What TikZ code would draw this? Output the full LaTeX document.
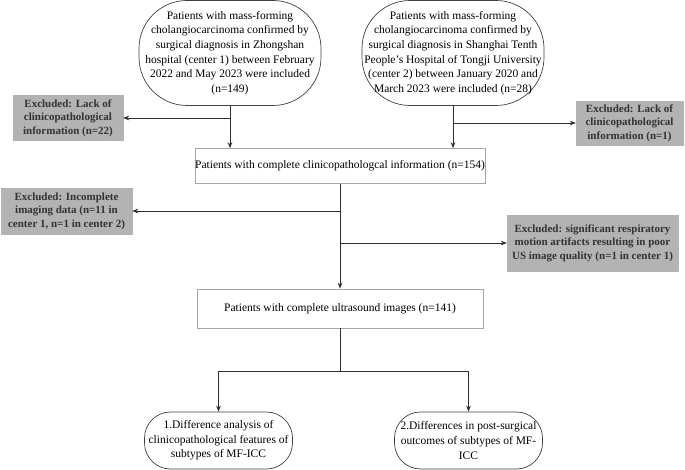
\documentclass[tikz,border=0pt]{standalone}
\usepackage{fontspec}
\setmainfont{Liberation Serif}
\usetikzlibrary{arrows.meta}
\definecolor{exfill}{HTML}{B3B3B3}
\definecolor{extext}{HTML}{333333}
\definecolor{boxline}{HTML}{A6A6A6}
\definecolor{rline}{HTML}{404040}
\definecolor{aline}{HTML}{2E2E2E}
\tikzset{
  txt/.style={font=\fontsize{11.5}{14.6}\selectfont, align=center, inner sep=0pt},
  roundbox/.style={txt, draw=rline, line width=0.7pt, rounded corners=#1},
  plainbox/.style={txt, draw=boxline, line width=0.7pt},
  exbox/.style={txt, fill=exfill, draw=exfill, text=extext, font=\fontsize{11}{13.5}\selectfont\bfseries},
  arr/.style={draw=aline, line width=0.8pt, -{Stealth[length=6pt,width=4.6pt]}},
  ln/.style={draw=aline, line width=0.8pt},
}
\begin{document}
\begin{tikzpicture}[x=1pt,y=-1pt]
\useasboundingbox (0,0) rectangle (685,470);
% top boxes
\node[roundbox=48pt, minimum width=182pt, minimum height=105pt] (c1) at (230,53)
 {Patients with mass-forming\\cholangiocarcinoma confirmed by\\surgical diagnosis in Zhongshan\\hospital (center 1) between February\\2022 and May 2023 were included\\(n=149)};
\node[roundbox=48pt, minimum width=182pt, minimum height=105pt] (c2) at (453,53)
 {Patients with mass-forming\\cholangiocarcinoma confirmed by\\surgical diagnosis in Shanghai Tenth\\People's Hospital of Tongji University\\(center 2) between January 2020 and\\March 2023 were included (n=28)};
% exclusion boxes
\node[exbox, minimum width=110pt, minimum height=45pt] (ex1) at (68,118)
 {Excluded: Lack of\\clinicopathological\\information (n=22)};
\node[exbox, minimum width=107pt, minimum height=44pt] (ex2) at (629.5,123)
 {Excluded: Lack of\\clinicopathological\\information (n=1)};
% complete
\node[plainbox, minimum width=286pt, minimum height=35pt] (comp) at (340,166)
 {Patients with complete clinicopathologcal information (n=154)};
\node[exbox, minimum width=131pt, minimum height=46pt] (ex3) at (66.5,211)
 {Excluded: Incomplete\\imaging data (n=11 in\\center 1, n=1 in center 2)};
\node[exbox, minimum width=171pt, minimum height=56pt] (ex4) at (592.5,243)
 {Excluded: significant respiratory\\motion artifacts resulting in poor\\US image quality (n=1 in center 1)};
\node[plainbox, minimum width=286pt, minimum height=39pt] (us) at (340,308.5)
 {Patients with complete ultrasound images (n=141)};
% bottom
\node[roundbox=26pt, minimum width=148pt, minimum height=57pt] (b1) at (218.5,440.5)
 {1.Difference analysis of\\clinicopathological features of\\subtypes of MF-ICC};
\node[roundbox=26pt, minimum width=148pt, minimum height=57pt] (b2) at (468.5,440.5)
 {2.Differences in post-surgical\\outcomes of subtypes of MF-\\ICC};
% connectors
\draw[arr] (c1.south) -- (c1.south |- comp.north);
\coordinate (j1) at (c1.south |- ex1.east);
\draw[arr] (j1) -- (ex1.east);
\draw[arr] (c2.south) -- (c2.south |- comp.north);
\coordinate (j2) at (c2.south |- ex2.west);
\draw[arr] (j2) -- (ex2.west);
\draw[arr] (comp.south) -- (us.north);
\coordinate (j3) at (comp.south |- ex3.east);
\draw[arr] (j3) -- (ex3.east);
\coordinate (j4) at (comp.south |- ex4.west);
\draw[arr] (j4) -- (ex4.west);
\coordinate (s) at (340,371);
\draw[ln] (us.south) -- (s);
\coordinate (sl) at (b1.north |- s);
\coordinate (sr) at (b2.north |- s);
\draw[ln] (sl) -- (sr);
\draw[arr] (sl) -- (b1.north);
\draw[arr] (sr) -- (b2.north);
\end{tikzpicture}
\end{document}
